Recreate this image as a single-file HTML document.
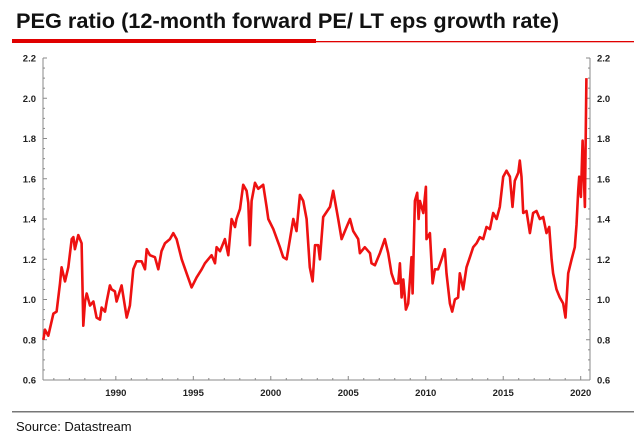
<!DOCTYPE html>
<html><head><meta charset="utf-8"><style>
html,body{margin:0;padding:0;background:#fff;}
svg{display:block;font-family:"Liberation Sans",Arial,sans-serif;}
</style></head><body>
<svg id="chart" width="640" height="441" viewBox="0 0 640 441">
<text x="16" y="28" font-size="21" font-weight="bold" fill="#111" textLength="543" lengthAdjust="spacingAndGlyphs">PEG ratio (12-month forward PE/ LT eps growth rate)</text>
<rect x="12" y="39" width="304" height="4" fill="#e00000"/>
<rect x="316" y="41" width="318" height="1.3" fill="#e00000"/>
<g id="axes"></g>
<path id="line" fill="none" stroke="#ee1111" stroke-width="2.6" stroke-linejoin="round"/>
<rect x="12" y="411" width="622" height="1.5" fill="#777"/>
<text x="16" y="431" font-size="13" fill="#111">Source: Datastream</text>
</svg>
<script>
const years=[1985.32,1985.43,1985.64,1985.97,1986.18,1986.40,1986.50,1986.72,1986.93,1987.15,1987.26,1987.36,1987.58,1987.79,1987.90,1988.01,1988.12,1988.33,1988.55,1988.76,1988.98,1989.08,1989.30,1989.41,1989.62,1989.73,1989.94,1990.05,1990.37,1990.70,1990.91,1991.13,1991.34,1991.66,1991.88,1991.99,1992.20,1992.52,1992.74,1992.95,1993.17,1993.49,1993.71,1993.92,1994.25,1994.57,1994.89,1995.21,1995.54,1995.75,1996.18,1996.40,1996.50,1996.72,1997.04,1997.26,1997.36,1997.47,1997.69,1997.79,1998.01,1998.22,1998.44,1998.55,1998.65,1998.76,1998.98,1999.19,1999.51,1999.73,1999.84,2000.16,2000.59,2000.80,2001.02,2001.13,2001.45,2001.66,2001.88,2002.09,2002.31,2002.52,2002.70,2002.85,2003.06,
2003.17,2003.38,2003.82,2004.03,2004.35,2004.57,2004.89,2005.11,2005.32,2005.64,2005.75,2006.07,2006.40,2006.50,2006.72,2007.04,2007.36,2007.58,2007.79,2008.01,2008.22,2008.33,2008.44,2008.55,2008.72,2008.87,2009.08,2009.15,2009.30,2009.45,2009.54,2009.62,2009.84,2010.01,2010.05,2010.27,2010.44,2010.59,2010.80,2011.02,2011.23,2011.34,2011.56,2011.71,2011.88,2012.09,2012.20,2012.42,2012.63,2012.85,2013.06,2013.28,2013.49,2013.71,2013.92,2014.14,2014.35,2014.57,2014.78,2015.00,2015.21,2015.43,2015.60,2015.75,2015.97,2016.07,2016.18,2016.29,2016.50,2016.72,2016.93,2017.15,2017.36,2017.58,2017.79,2017.97,2018.12,2018.22,2018.44,2018.65,2018.87,2019.02,2019.19,2019.41,2019.62,2019.73,2019.84,2019.90,2020.01,2020.12,2020.27,2020.37];
const pegValues=[0.80,0.85,0.82,0.93,0.94,1.08,1.16,1.09,1.16,1.30,1.31,1.25,1.32,1.28,0.87,0.99,1.03,0.97,0.99,0.91,0.90,0.96,0.94,0.99,1.07,1.05,1.04,0.99,1.07,0.91,0.97,1.15,1.19,1.19,1.15,1.25,1.22,1.21,1.15,1.24,1.28,1.30,1.33,1.30,1.20,1.13,1.06,1.11,1.15,1.18,1.22,1.18,1.26,1.24,1.30,1.22,1.31,1.40,1.36,1.40,1.45,1.57,1.54,1.48,1.27,1.49,1.58,1.55,1.57,1.46,1.40,1.35,1.26,1.21,1.20,1.25,1.40,1.34,1.52,1.49,1.40,1.16,1.09,1.27,1.27,
1.20,1.41,1.46,1.54,1.40,1.30,1.36,1.40,1.34,1.30,1.23,1.26,1.23,1.18,1.17,1.23,1.30,1.23,1.13,1.08,1.08,1.18,1.01,1.10,0.95,0.98,1.21,1.03,1.49,1.53,1.40,1.49,1.43,1.56,1.30,1.33,1.08,1.15,1.15,1.20,1.25,1.13,0.98,0.94,1.00,1.01,1.13,1.05,1.16,1.21,1.26,1.28,1.31,1.30,1.36,1.35,1.43,1.40,1.46,1.61,1.64,1.61,1.46,1.59,1.63,1.69,1.61,1.43,1.44,1.33,1.43,1.44,1.40,1.41,1.33,1.36,1.20,1.13,1.05,1.01,0.98,0.91,1.13,1.20,1.26,1.37,1.54,1.61,1.51,1.79,1.46,2.10];
const yTicks=["0.6","0.8","1.0","1.2","1.4","1.6","1.8","2.0","2.2"];
const xTicks=["1990","1995","2000","2005","2010","2015","2020"];

const L=43,R=590,T=58,B=380,X0=1985.3,X1=2020.6,Y0=0.6,Y1=2.2;
function xs(v){return L+(v-X0)/(X1-X0)*(R-L);}
function ys(v){return B-(v-Y0)/(Y1-Y0)*(B-T);}
const NS="http://www.w3.org/2000/svg";
const axes=document.getElementById('axes');
function mk(tag,attrs){const e=document.createElementNS(NS,tag);for(const k in attrs)e.setAttribute(k,attrs[k]);axes.appendChild(e);return e;}
let e;
e=mk('line',{x1:L,y1:T,x2:L,y2:B,stroke:'#888','stroke-width':1});


e=mk('line',{x1:R,y1:T,x2:R,y2:B,stroke:'#888','stroke-width':1});


e=mk('line',{x1:L,y1:B,x2:R,y2:B,stroke:'#888','stroke-width':1});


for(let v=0.6;v<=2.2001;v+=0.05){
  const y=ys(v);const major=Math.abs(v*5-Math.round(v*5))<0.01;const len=major?4:2;
  mk('line',{x1:L,y1:y,x2:L+len,y2:y,stroke:'#888','stroke-width':1});
  mk('line',{x1:R-len,y1:y,x2:R,y2:y,stroke:'#888','stroke-width':1});
}
yTicks.forEach(t=>{
  const y=ys(parseFloat(t))+3.5;
  let a=mk('text',{x:36,y:y,'font-size':9.5,'font-weight':'bold','text-anchor':'end',fill:'#222'});a.textContent=t;
  
  
  let b=mk('text',{x:597,y:y,'font-size':9.5,'font-weight':'bold',fill:'#222'});b.textContent=t;
  
  
});
for(let yr=1986;yr<=2020;yr++){
  const x=xs(yr);const major=yr%5===0;
  mk('line',{x1:x,y1:B,x2:x,y2:B-(major?4:2),stroke:'#888','stroke-width':1});
}
xTicks.forEach(t=>{
  let a=mk('text',{x:xs(parseFloat(t)),y:396,'font-size':9.5,'font-weight':'bold','text-anchor':'middle',fill:'#222'});a.textContent=t;
  
  
});
let d='';
years.forEach((yr,i)=>{d+=(i?'L':'M')+xs(yr).toFixed(1)+' '+ys(pegValues[i]).toFixed(1);});
document.getElementById('line').setAttribute('d',d);
</script>
</body></html>
